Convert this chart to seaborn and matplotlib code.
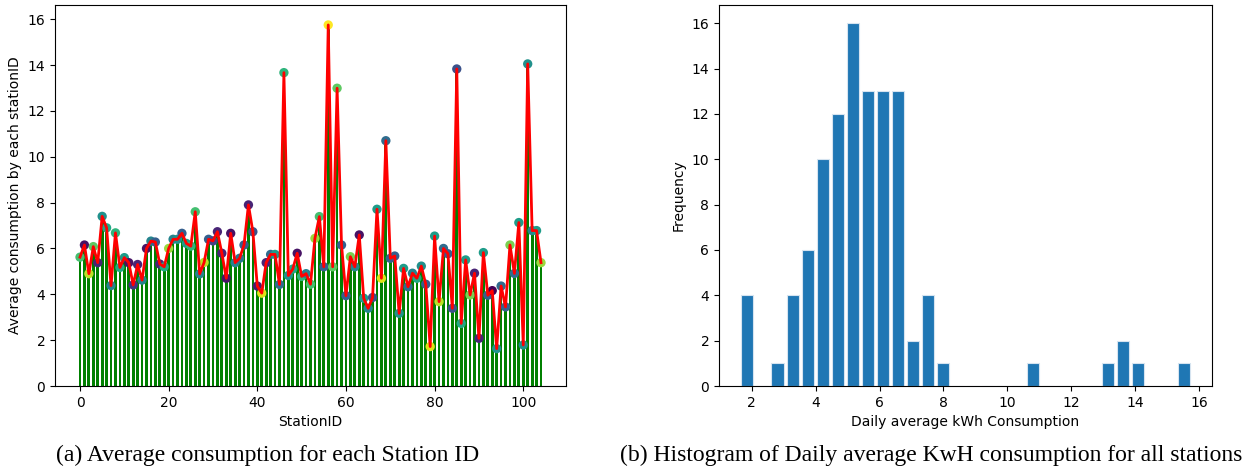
import numpy as np
import pandas as pd
import matplotlib
matplotlib.use('Agg')
import matplotlib.pyplot as plt
import seaborn as sns

# average consumption per station
station_id = list(range(105))
avg_kwh = [
    5.62, 6.15, 4.90, 6.08, 5.38, 7.40, 6.90, 4.38, 6.68, 5.17,
    5.60, 5.38, 4.41, 5.30, 4.62, 6.00, 6.32, 6.28, 5.32, 5.20,
    6.00, 6.40, 6.40, 6.66, 6.22, 6.10, 7.60, 4.89, 5.39, 6.40,
    6.33, 6.73, 5.79, 4.70, 6.66, 5.38, 5.57, 6.15, 7.90, 6.73,
    4.36, 4.05, 5.38, 5.74, 5.74, 4.43, 13.67, 4.82, 5.10, 5.79,
    4.78, 4.90, 4.44, 6.44, 7.39, 5.20, 15.75, 5.20, 12.99, 6.15,
    3.94, 5.64, 5.20, 6.59, 3.83, 3.39, 3.86, 7.71, 4.70, 10.70,
    5.57, 5.67, 3.17, 5.13, 4.33, 4.92, 4.70, 5.23, 4.44, 1.72,
    6.54, 3.68, 6.00, 5.77, 3.39, 13.83, 2.73, 5.50, 3.97, 4.92,
    2.08, 5.82, 3.96, 4.16, 1.63, 4.36, 3.45, 6.15, 4.91, 7.13,
    1.79, 14.05, 6.78, 6.78, 5.38,
]
# colour value of each marker (viridis)
point_color = [
    0.70, 0.05, 0.90, 0.75, 0.10, 0.50, 0.60, 0.45, 0.65, 0.60,
    0.55, 0.05, 0.15, 0.10, 0.45, 0.05, 0.45, 0.30, 0.10, 0.60,
    0.85, 0.45, 0.50, 0.30, 0.55, 0.65, 0.70, 0.45, 0.90, 0.30,
    0.20, 0.10, 0.10, 0.05, 0.05, 0.45, 0.40, 0.30, 0.10, 0.25,
    0.08, 0.95, 0.10, 0.35, 0.55, 0.35, 0.65, 0.50, 0.60, 0.05,
    0.65, 0.45, 0.70, 0.85, 0.70, 0.30, 1.00, 0.75, 0.75, 0.30,
    0.30, 0.80, 0.45, 0.05, 0.55, 0.45, 0.25, 0.55, 0.95, 0.35,
    0.30, 0.30, 0.50, 0.55, 0.35, 0.45, 0.60, 0.50, 0.30, 0.95,
    0.55, 0.90, 0.35, 0.30, 0.25, 0.25, 0.60, 0.55, 0.80, 0.10,
    0.10, 0.55, 0.30, 0.00, 0.50, 0.35, 0.30, 0.80, 0.35, 0.55,
    0.50, 0.50, 0.45, 0.55, 0.85,
]

df = pd.DataFrame({'station': station_id, 'kwh': avg_kwh, 'c': point_color})

fig = plt.figure(figsize=(12.56, 4.70), dpi=100)
W, H = 1256, 470
ax1 = fig.add_axes([55 / W, 1 - 386 / H, 511 / W, 381 / H])
ax2 = fig.add_axes([719 / W, 1 - 386 / H, 493 / W, 381 / H])

# (a) bars + markers + line
sns.barplot(data=df, x='station', y='kwh', native_scale=True, color='green',
            saturation=1, width=0.62, ax=ax1)
sns.scatterplot(data=df, x='station', y='kwh', hue='c', palette='viridis',
                hue_norm=(0, 1), s=45, linewidth=0, legend=False, ax=ax1, zorder=3)
sns.lineplot(data=df, x='station', y='kwh', color='red', linewidth=2, ax=ax1, zorder=4)
ax1.set_xlim(-5.64, 109.64)
ax1.set_ylim(0, 16.62)
ax1.set_xticks([0, 20, 40, 60, 80, 100])
ax1.set_yticks(range(0, 17, 2))
ax1.set_xlabel('StationID', fontsize=10)
ax1.set_ylabel('Average consumption by each stationID', fontsize=10)
ax1.tick_params(labelsize=10)

# (b) histogram
sns.histplot(x=avg_kwh, bins=30, shrink=0.8, color='#1f77b4', edgecolor='#d6e4f0',
             linewidth=0.8, alpha=1, ax=ax2)
ax2.set_ylim(0, 16.8)
ax2.set_yticks(range(0, 17, 2))
ax2.set_xticks(range(2, 17, 2))
ax2.set_xlabel('Daily average kWh Consumption', fontsize=10)
ax2.set_ylabel('Frequency', fontsize=10)
ax2.tick_params(labelsize=10)

serif = ['Liberation Serif', 'DejaVu Serif']
fig.text(268 / W, 1 - 455 / H, '(a) Average consumption for each Station ID',
         ha='center', va='center', fontsize=17, family=serif)
fig.text(931 / W, 1 - 455 / H, '(b) Histogram of Daily average KwH consumption for all stations',
         ha='center', va='center', fontsize=17, family=serif)

fig.savefig('out.png', dpi=100)
